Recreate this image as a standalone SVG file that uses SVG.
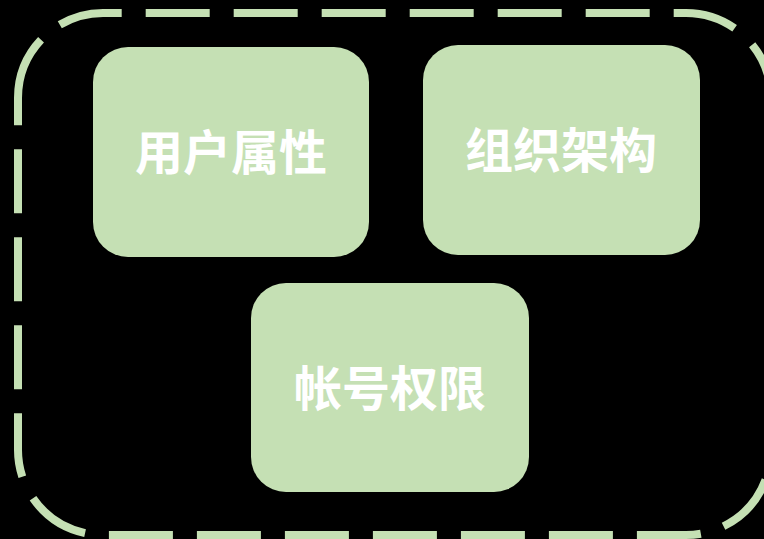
<svg xmlns="http://www.w3.org/2000/svg" width="764" height="539" viewBox="0 0 764 539">
<style>
.box{fill:#C5E0B4;}
.lbl{fill:#FFFFFF;font-family:"Noto Sans CJK SC","Noto Sans",sans-serif;font-weight:700;font-size:48px;text-anchor:middle;}
.frame{fill:none;stroke:#C5E0B4;stroke-width:8;stroke-dasharray:64 24;}
</style>
<rect x="0" y="0" width="764" height="539" fill="#000000"/>
<g id="frame">
<path class="frame" d="M 18 98 A 85 85 0 0 1 103 13 L 686 13 A 85 85 0 0 1 771 98 L 771 450 A 85 85 0 0 1 686 535 L 103 535 A 85 85 0 0 1 18 450 Z"/>
</g>
<g id="connectors"></g>
<g id="node-user-attributes">
<rect class="box" x="93" y="47" width="276" height="210" rx="35" ry="35"/>
<text class="lbl" x="231" y="170">用户属性</text>
</g>
<g id="node-org-structure">
<rect class="box" x="423" y="45" width="277" height="210" rx="35" ry="35"/>
<text class="lbl" x="561" y="168">组织架构</text>
</g>
<g id="node-account-permissions">
<rect class="box" x="251" y="283" width="278" height="209" rx="35" ry="35"/>
<text class="lbl" x="390" y="406">帐号权限</text>
</g>
</svg>
